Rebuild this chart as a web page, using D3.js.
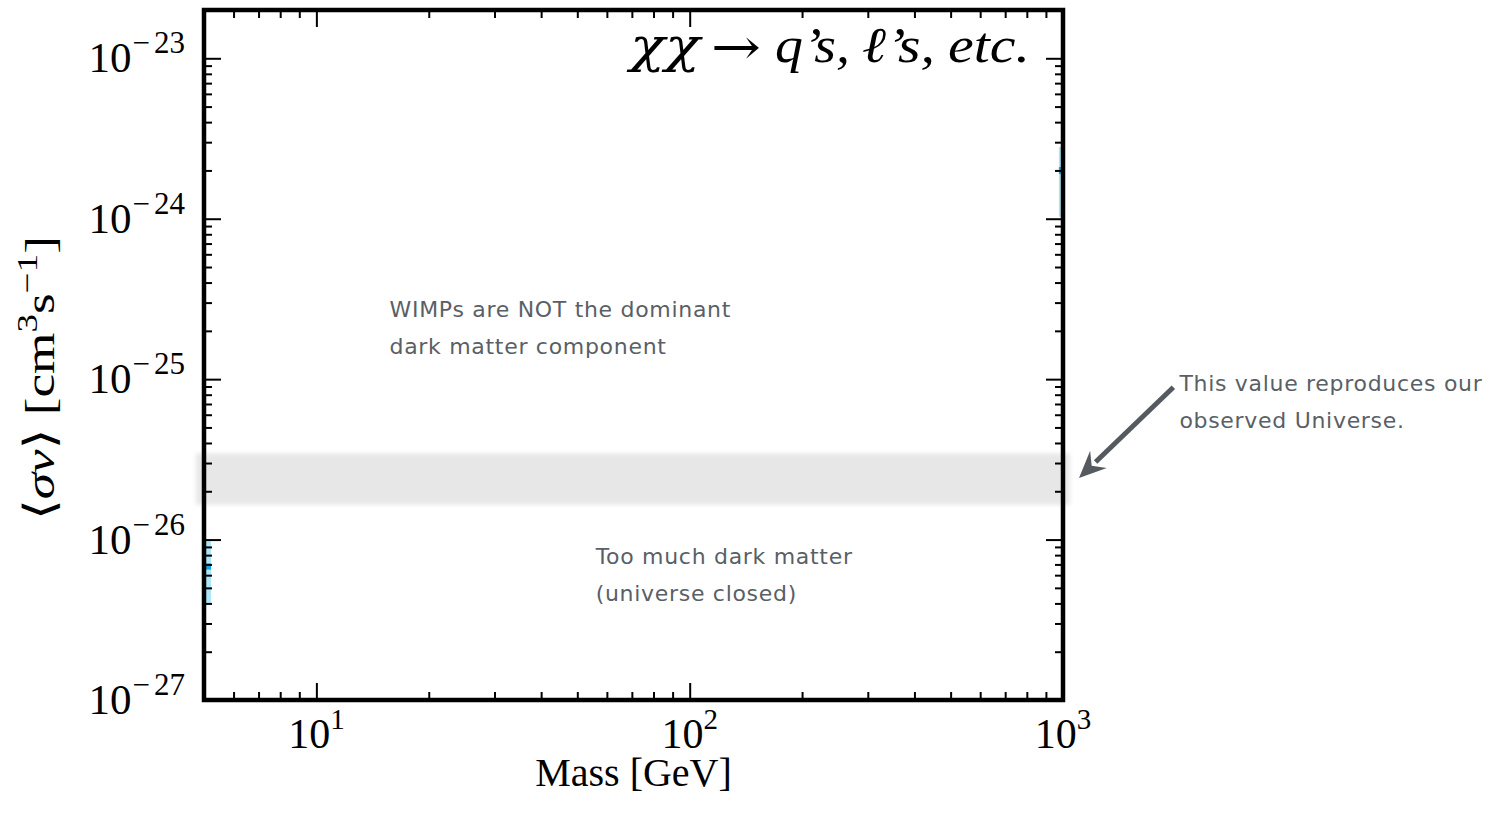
<!DOCTYPE html>
<html>
<head>
<meta charset="utf-8">
<script src="https://cdn.jsdelivr.net/npm/d3@7"></script>
<style>
  html, body { margin: 0; padding: 0; background: #ffffff; }
  svg { display: block; }
</style>
</head>
<body>
<svg id="chart" width="1499" height="819"></svg>
<script>
// ---- data ----
const massDomain = [5, 1000];               // GeV
const sigmaDomain = [1e-27, 2e-23];         // cm^3 s^-1
const xMajorTicks = [10, 100, 1000];
const xTickExponents = ["1", "2", "3"];
const yMajorTicks = [1e-27, 1e-26, 1e-25, 1e-24, 1e-23];
const yTickExponents = ["\u221227", "\u221226", "\u221225", "\u221224", "\u221223"];

// thermal-relic cross-section band
const relicLow = 1.65e-26;
const relicHigh = 3.45e-26;

// slivers of the exclusion contour that fall inside the window
const patchMass = [[5, 5.22], [975, 1000]];
const patchSigma = [[4e-27, 1e-26], [1.03e-24, 2.8e-24]];
const patchCoreSigma = [[6.5e-27, 7.1e-27], [1.9e-24, 2.1e-24]];

const titleParts = ["\u03C7\u03C7", "\u2192", "q\u2019s,", "\u2113\u2019s,", "etc."];
const noteUpper = ["WIMPs are NOT the dominant", "dark matter component"];
const noteLower = ["Too much dark matter", "(universe closed)"];
const noteRelic = ["This value reproduces our", "observed Universe."];

// ---- layout ----
const box = { left: 204, right: 1063, top: 10, bottom: 700 };
const svg = d3.select("#chart");

const x = d3.scaleLog().domain(massDomain).range([box.left, box.right]);
const y = d3.scaleLog().domain(sigmaDomain).range([box.bottom, box.top]);

const isPow10 = v => Math.abs(Math.log10(v) - Math.round(Math.log10(v))) < 1e-9;
const xMinor = x.ticks().filter(v => !isPow10(v));
const yMinor = y.ticks().filter(v => !isPow10(v));

const defs = svg.append("defs");
defs.append("filter").attr("id", "soft")
  .attr("x", "-5%").attr("y", "-40%").attr("width", "110%").attr("height", "180%")
  .append("feGaussianBlur").attr("stdDeviation", 2.2);

// relic band
svg.append("rect")
  .attr("x", x(massDomain[0]) - 8)
  .attr("width", x(massDomain[1]) - x(massDomain[0]) + 15)
  .attr("y", y(relicHigh))
  .attr("height", y(relicLow) - y(relicHigh))
  .attr("fill", "#e7e7e7")
  .attr("filter", "url(#soft)");

// contour slivers
const patches = svg.append("g");
patchMass.forEach((m, i) => {
  patches.append("rect")
    .attr("x", x(m[0])).attr("width", x(m[1]) - x(m[0]))
    .attr("y", y(patchSigma[i][1])).attr("height", y(patchSigma[i][0]) - y(patchSigma[i][1]))
    .attr("fill", "#ade6f8");
  patches.append("rect")
    .attr("x", x(m[0])).attr("width", x(m[1]) - x(m[0]))
    .attr("y", y(patchCoreSigma[i][1])).attr("height", y(patchCoreSigma[i][0]) - y(patchCoreSigma[i][1]))
    .attr("fill", "#12a6e2");
});

// ---- axes: ticks on all four sides, pointing inward ----
const MAJ = 17, MIN = 8;
function addAxis(gen, transform, values, size) {
  const g = svg.append("g").attr("transform", transform)
    .call(gen.tickValues(values).tickSize(-size).tickFormat(""));
  g.select(".domain").remove();
  g.selectAll(".tick line").attr("stroke", "#000").attr("stroke-width", 2);
  return g;
}
addAxis(d3.axisBottom(x), `translate(0,${box.bottom})`, xMajorTicks, MAJ);
addAxis(d3.axisBottom(x), `translate(0,${box.bottom})`, xMinor, MIN);
addAxis(d3.axisTop(x), `translate(0,${box.top})`, xMajorTicks, MAJ);
addAxis(d3.axisTop(x), `translate(0,${box.top})`, xMinor, MIN);
addAxis(d3.axisLeft(y), `translate(${box.left},0)`, yMajorTicks, MAJ);
addAxis(d3.axisLeft(y), `translate(${box.left},0)`, yMinor, MIN);
addAxis(d3.axisRight(y), `translate(${box.right},0)`, yMajorTicks, MAJ);
addAxis(d3.axisRight(y), `translate(${box.right},0)`, yMinor, MIN);

// frame
svg.append("rect")
  .attr("x", box.left).attr("y", box.top)
  .attr("width", box.right - box.left).attr("height", box.bottom - box.top)
  .attr("fill", "none").attr("stroke", "#000").attr("stroke-width", 4.5);

// ---- tick labels ----
const serif = "'Liberation Serif', 'DejaVu Serif', serif";
xMajorTicks.forEach((v, i) => {
  const t = svg.append("text")
    .attr("x", x(v)).attr("y", box.bottom + 48)
    .attr("text-anchor", "middle")
    .attr("font-family", serif).attr("font-size", 42).attr("fill", "#000");
  t.append("tspan").text("10");
  t.append("tspan").attr("dy", -19).attr("font-size", 29).text(xTickExponents[i]);
});
yMajorTicks.forEach((v, i) => {
  const t = svg.append("text")
    .attr("x", 185).attr("y", y(v) + 14)
    .attr("text-anchor", "end")
    .attr("font-family", serif).attr("font-size", 43).attr("fill", "#000");
  t.append("tspan").text("10");
  const s = t.append("tspan").attr("dy", -19).attr("font-size", 31);
  s.append("tspan").attr("dx", 1).text(yTickExponents[i].slice(0, 1));
  s.append("tspan").attr("dx", 4).text(yTickExponents[i].slice(1));
});

// axis titles
svg.append("text")
  .attr("x", (box.left + box.right) / 2).attr("y", 786)
  .attr("text-anchor", "middle")
  .attr("font-family", serif).attr("font-size", 40).attr("fill", "#000")
  .text("Mass [GeV]");

const yl = svg.append("text")
  .attr("transform", `translate(54,${(box.top + box.bottom) / 2 + 23}) rotate(-90)`)
  .attr("text-anchor", "middle")
  .attr("textLength", 284).attr("lengthAdjust", "spacingAndGlyphs")
  .attr("font-family", serif).attr("font-size", 43).attr("fill", "#000");
yl.append("tspan").text("\u27E8");
yl.append("tspan").attr("font-style", "italic").text("\u03C3v");
yl.append("tspan").text("\u27E9 [cm");
yl.append("tspan").attr("dy", -17).attr("font-size", 30).text("3");
yl.append("tspan").attr("dy", 17).text("s");
yl.append("tspan").attr("dy", -17).attr("font-size", 30).text("\u22121");
yl.append("tspan").attr("dy", 17).text("]");

// title in the upper right corner of the frame, set piece by piece
const titleLayout = [
  { x: 630, w: 70, italic: true,  size: 48, base: 62, font: "'DejaVu Serif', serif" },
  { x: 711, w: 50, italic: false, size: 50, base: 64, font: "'DejaVu Serif', serif" },
  { x: 775, w: 75, italic: true,  size: 50, base: 62, font: serif },
  { x: 862, w: 73, italic: true,  size: 50, base: 62, font: serif },
  { x: 948, w: 82, italic: true,  size: 50, base: 62, font: serif }
];
titleParts.forEach((s, i) => {
  const L = titleLayout[i];
  svg.append("text")
    .attr("x", L.x).attr("y", L.base)
    .attr("textLength", L.w).attr("lengthAdjust", "spacingAndGlyphs")
    .attr("font-family", L.font).attr("font-size", L.size)
    .attr("font-style", L.italic ? "italic" : "normal")
    .attr("font-weight", 300)
    .attr("fill", "#000")
    .text(s);
});

// ---- annotations ----
const sans = "'DejaVu Sans', 'Noto Sans', sans-serif";
function note(lines, px, py) {
  const t = svg.append("text")
    .attr("font-family", sans).attr("font-size", 22).attr("letter-spacing", 0.7)
    .attr("fill", "#5a5f66");
  lines.forEach((s, k) => t.append("tspan").attr("x", px).attr("y", py + k * 37).text(s));
}
note(noteUpper, x(15.7), y(2.45e-25));
note(noteLower, x(56), y(7.0e-27));
note(noteRelic, x(2050), y(8.4e-26));

// arrow to the relic band
const relicMid = Math.sqrt(relicLow * relicHigh);
const tip = [x(massDomain[1]) + 16, y(relicMid) - 1];
const tail = [x(2050) - 6, y(8.4e-26) - 4];
const ang = Math.atan2(tip[1] - tail[1], tip[0] - tail[0]);
const headLen = 27, headHalf = 12;
const base = [tip[0] - headLen * Math.cos(ang), tip[1] - headLen * Math.sin(ang)];
svg.append("line")
  .attr("x1", tail[0]).attr("y1", tail[1])
  .attr("x2", base[0] + 4 * Math.cos(ang)).attr("y2", base[1] + 4 * Math.sin(ang))
  .attr("stroke", "#555a61").attr("stroke-width", 5);
svg.append("path")
  .attr("d", d3.line()([
    tip,
    [base[0] + headHalf * Math.sin(ang), base[1] - headHalf * Math.cos(ang)],
    [base[0] + 0.35 * headLen * Math.cos(ang), base[1] + 0.35 * headLen * Math.sin(ang)],
    [base[0] - headHalf * Math.sin(ang), base[1] + headHalf * Math.cos(ang)]
  ]) + "Z")
  .attr("fill", "#555a61");
</script>
</body>
</html>
